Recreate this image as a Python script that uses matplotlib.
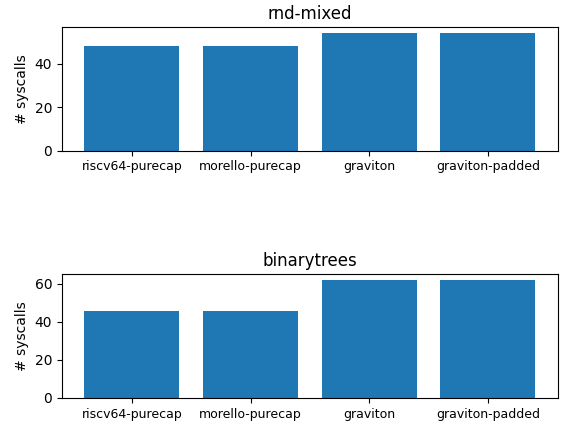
import matplotlib
matplotlib.use("Agg")
import matplotlib.pyplot as plt

categories = ["riscv64-purecap", "morello-purecap", "graviton", "graviton-padded"]
rnd_mixed = [48, 48, 54, 54]
binarytrees = [46, 46, 62, 62]
titles = ["rnd-mixed", "binarytrees"]

fig, axes = plt.subplots(2, 1, figsize=(5.63, 4.25), dpi=100)
fig.subplots_adjust(left=0.110, right=0.991, top=0.936, bottom=0.064, hspace=1.0)
for ax, vals, t in zip(axes, [rnd_mixed, binarytrees], titles):
    ax.bar(categories, vals, color="#1f77b4")
    ax.set_title(t)
    ax.set_ylabel("# syscalls")
    ax.tick_params(axis="x", labelsize=9)
fig.savefig("out.png", dpi=100)
